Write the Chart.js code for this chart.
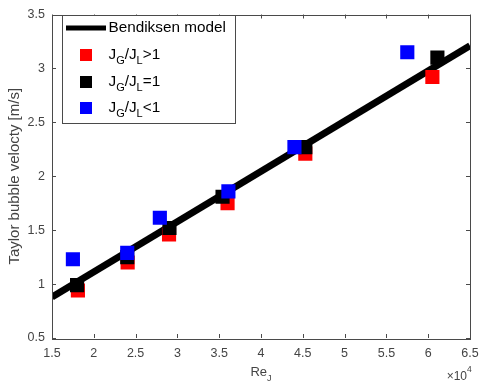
<!DOCTYPE html>
<html><head><meta charset="utf-8">
<script src="https://cdn.jsdelivr.net/npm/chart.js@4/dist/chart.umd.min.js"></script>
<style>html,body{margin:0;padding:0;background:#fff}#wrap{width:480px;height:387px}</style>
</head><body><div id="wrap"><canvas id="c" width="480" height="387"></canvas></div>
<script>
// ---- data (Re_J, Taylor bubble velocity m/s) ----
const modelRe  = [15000, 65000];
const modelVel = [0.88, 3.21];
const redRe    = [18100, 24050, 29000, 36000, 45300, 60500];
const redVel   = [0.94, 1.20, 1.46, 1.75, 2.21, 2.92];
const blackRe  = [18000, 24000, 29050, 35400, 45300, 61100];
const blackVel = [0.99, 1.25, 1.52, 1.81, 2.27, 3.10];
const blueRe   = [17500, 24000, 27900, 36100, 44000, 57500];
const blueVel  = [1.23, 1.29, 1.615, 1.86, 2.27, 3.15];
const xTicks   = [15000, 20000, 25000, 30000, 35000, 40000, 45000, 50000, 55000, 60000, 65000];
const yTicks   = [0.5, 1, 1.5, 2, 2.5, 3, 3.5];
const seriesLabels = ['Bendiksen model', 'J_G/J_L>1', 'J_G/J_L=1', 'J_G/J_L<1'];
const yTitle = 'Taylor bubble velocty [m/s]';
const xTitle = 'Re_J';

const FONT = "'Liberation Sans', Arial, Helvetica, sans-serif";
const AXC = '#4a4a4a';
const TXC = '#444444';

function pts(xs, ys){ return xs.map((x,i)=>({x:x, y:ys[i]})); }

// draw text with _X subscripts; returns width
function drawSub(ctx, str, x, y, size, measureOnly){
  const parts = str.split(/_(\w)/);
  let cx = x;
  for (let i=0;i<parts.length;i++){
    const sub = i%2===1;
    const fs = sub ? Math.round(size*0.72) : size;
    ctx.font = fs + 'px ' + FONT;
    const dy = sub ? size*0.38 : 0;
    if(!measureOnly) ctx.fillText(parts[i], cx, y+dy);
    cx += ctx.measureText(parts[i]).width;
  }
  return cx - x;
}

const decor = {
  id: 'decor',
  afterDatasetsDraw(chart){
    const ctx = chart.ctx, a = chart.chartArea;
    const xs = chart.scales.x, ys = chart.scales.y;
    ctx.save();
    // box
    ctx.strokeStyle = AXC; ctx.lineWidth = 1;
    ctx.strokeRect(Math.round(a.left)+0.5, Math.round(a.top)+0.5, Math.round(a.right-a.left), Math.round(a.bottom-a.top));
    // inward ticks
    ctx.beginPath();
    xTicks.forEach(v=>{
      const px = Math.round(xs.getPixelForValue(v))+0.5;
      ctx.moveTo(px, a.bottom); ctx.lineTo(px, a.bottom-4);
      ctx.moveTo(px, a.top); ctx.lineTo(px, a.top+4);
    });
    yTicks.forEach(v=>{
      const py = Math.round(ys.getPixelForValue(v))+0.5;
      ctx.moveTo(a.left, py); ctx.lineTo(a.left+4, py);
      ctx.moveTo(a.right, py); ctx.lineTo(a.right-4, py);
    });
    ctx.stroke();

    // x title with subscript
    ctx.fillStyle = TXC; ctx.textBaseline = 'alphabetic'; ctx.textAlign = 'left';
    const w = drawSub(ctx, xTitle, 0, 0, 13, true);
    drawSub(ctx, xTitle, (a.left+a.right)/2 - w/2, 376, 13, false);
    // exponent
    ctx.font = '12px ' + FONT;
    ctx.textAlign = 'right';
    ctx.fillText('\u00d710', a.right-3, 380);
    ctx.font = '8.5px ' + FONT;
    ctx.textAlign = 'left';
    ctx.fillText('4', a.right-3, 372);

    // legend
    const lx = 62, ly = 15, lw = 173, lh = 108;
    ctx.fillStyle = '#fff';
    ctx.fillRect(lx, ly, lw, lh);
    ctx.strokeStyle = AXC; ctx.lineWidth = 1;
    ctx.strokeRect(lx+0.5, ly+0.5, lw, lh);
    const rows = [28, 55, 82, 108];
    chart.data.datasets.forEach((ds, i)=>{
      const ry = rows[i];
      if (i===0){
        ctx.strokeStyle = ds.borderColor; ctx.lineWidth = 5; ctx.lineCap='butt';
        ctx.beginPath(); ctx.moveTo(66, ry); ctx.lineTo(106, ry); ctx.stroke();
      } else {
        ctx.fillStyle = ds.backgroundColor;
        ctx.fillRect(80, ry-6, 12, 12);
      }
      ctx.fillStyle = '#000'; ctx.textBaseline = 'middle'; ctx.textAlign='left';
      drawSub(ctx, seriesLabels[i], 108.5, ry, 15.3, false);
    });
    ctx.restore();
  }
};

const sq = (col)=>({ backgroundColor: col, borderColor: col, borderWidth: 0, pointStyle: 'rect', pointRadius: 10, pointHoverRadius: 10, showLine: false });

new Chart(document.getElementById('c'), {
  type: 'scatter',
  data: {
    datasets: [
      { label: seriesLabels[0], data: pts(modelRe, modelVel), showLine: true, borderColor: '#000', backgroundColor: '#000', borderWidth: 7, pointRadius: 0, order: 4 },
      Object.assign({ label: seriesLabels[1], data: pts(redRe, redVel), order: 3 }, sq('#ff0000')),
      Object.assign({ label: seriesLabels[2], data: pts(blackRe, blackVel), order: 2 }, sq('#000000')),
      Object.assign({ label: seriesLabels[3], data: pts(blueRe, blueVel), order: 1 }, sq('#0000ff'))
    ]
  },
  options: {
    responsive: false, animation: false, devicePixelRatio: 1,
    layout: { padding: { top: 11, right: 8, left: 0, bottom: 0 } },
    plugins: { legend: { display: false }, tooltip: { enabled: false } },
    scales: {
      x: {
        type: 'linear', min: 15000, max: 65000,
        afterBuildTicks: s => { s.ticks = xTicks.map(v=>({value:v})); },
        afterFit: s => { s.height = 49; s.paddingLeft = 0; s.paddingRight = 0; },
        grid: { display: false, drawTicks: false }, border: { display: false },
        ticks: { autoSkip: false, maxRotation: 0, padding: 8, color: TXC, font: { size: 12.5, family: FONT }, callback: v => String(v/10000) }
      },
      y: {
        type: 'linear', min: 0.5, max: 3.5,
        afterBuildTicks: s => { s.ticks = yTicks.map(v=>({value:v})); },
        afterFit: s => { s.width = 52; },
        grid: { display: false, drawTicks: false }, border: { display: false },
        ticks: { autoSkip: false, padding: 7, color: TXC, font: { size: 12.5, family: FONT }, callback: v => String(v) },
        title: { display: true, text: yTitle, color: TXC, font: { size: 15, family: FONT }, padding: { top: 6, bottom: 0 } }
      }
    }
  },
  plugins: [decor]
});
</script></body></html>
